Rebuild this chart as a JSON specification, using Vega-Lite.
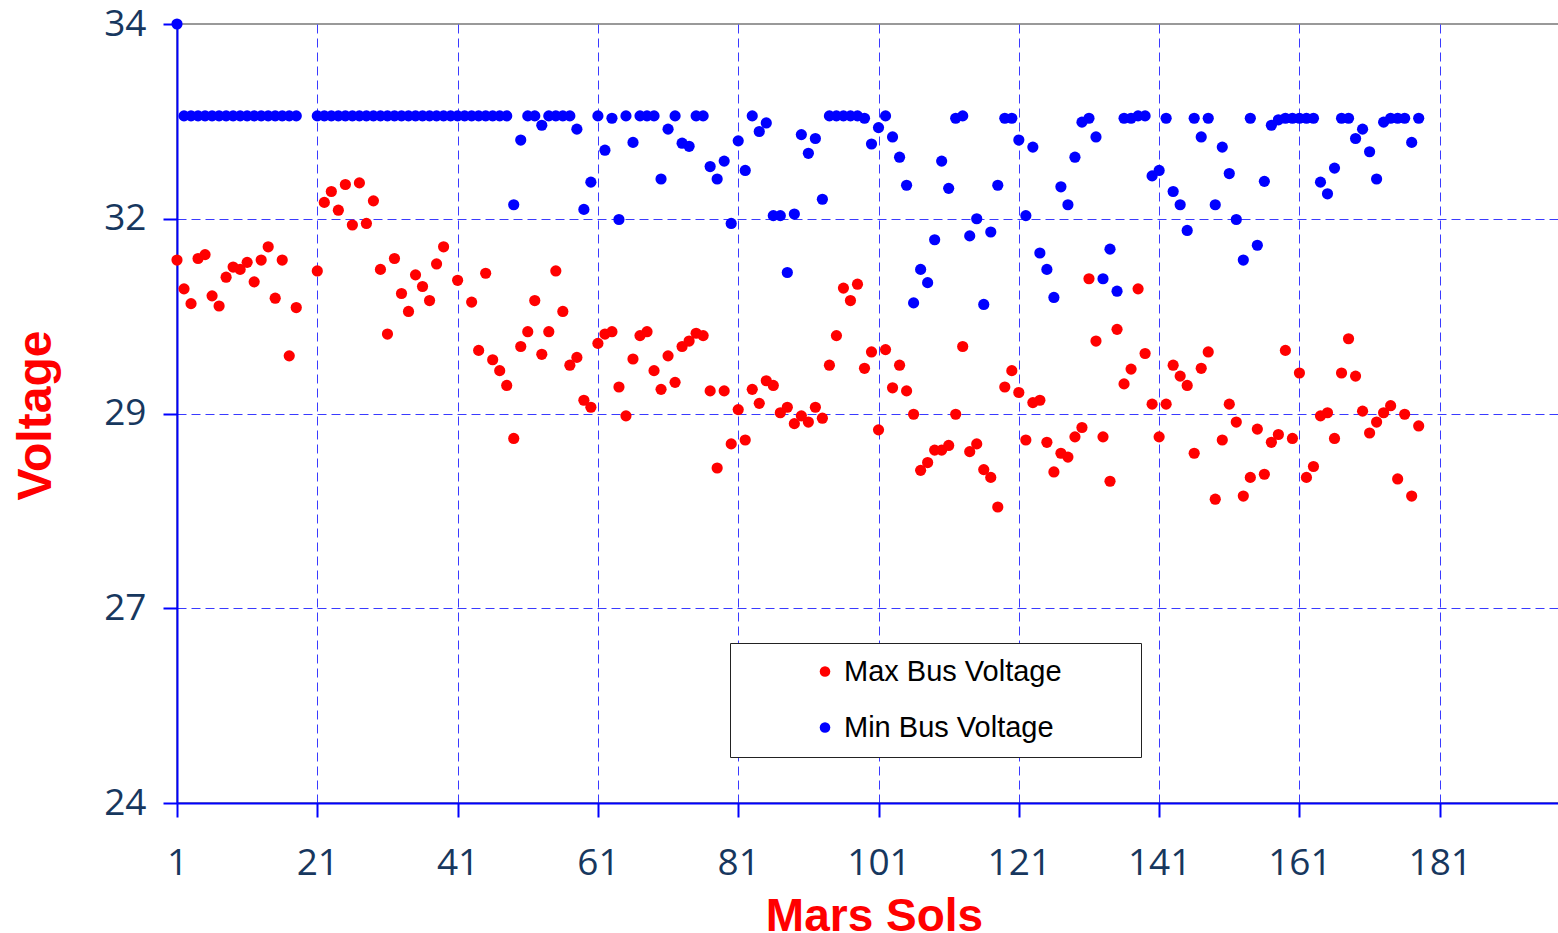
{
"$schema": "https://vega.github.io/schema/vega-lite/v6.json",
"width": 1382,
"height": 779,
"autosize": {"type": "none"},
"padding": {"left": 177, "top": 24, "right": 0, "bottom": 130},
"background": "#ffffff",
"config": {"view": {"stroke": "#999999", "strokeWidth": 2}},
"data": {"values": [
{"sol":1,"series":"Max Bus Voltage","volts":30.97},
{"sol":2,"series":"Max Bus Voltage","volts":30.60},
{"sol":3,"series":"Max Bus Voltage","volts":30.41},
{"sol":4,"series":"Max Bus Voltage","volts":30.99},
{"sol":5,"series":"Max Bus Voltage","volts":31.04},
{"sol":6,"series":"Max Bus Voltage","volts":30.51},
{"sol":7,"series":"Max Bus Voltage","volts":30.38},
{"sol":8,"series":"Max Bus Voltage","volts":30.75},
{"sol":9,"series":"Max Bus Voltage","volts":30.88},
{"sol":10,"series":"Max Bus Voltage","volts":30.85},
{"sol":11,"series":"Max Bus Voltage","volts":30.94},
{"sol":12,"series":"Max Bus Voltage","volts":30.69},
{"sol":13,"series":"Max Bus Voltage","volts":30.97},
{"sol":14,"series":"Max Bus Voltage","volts":31.14},
{"sol":15,"series":"Max Bus Voltage","volts":30.48},
{"sol":16,"series":"Max Bus Voltage","volts":30.97},
{"sol":17,"series":"Max Bus Voltage","volts":29.74},
{"sol":18,"series":"Max Bus Voltage","volts":30.36},
{"sol":21,"series":"Max Bus Voltage","volts":30.83},
{"sol":22,"series":"Max Bus Voltage","volts":31.71},
{"sol":23,"series":"Max Bus Voltage","volts":31.85},
{"sol":24,"series":"Max Bus Voltage","volts":31.61},
{"sol":25,"series":"Max Bus Voltage","volts":31.94},
{"sol":26,"series":"Max Bus Voltage","volts":31.42},
{"sol":27,"series":"Max Bus Voltage","volts":31.96},
{"sol":28,"series":"Max Bus Voltage","volts":31.44},
{"sol":29,"series":"Max Bus Voltage","volts":31.73},
{"sol":30,"series":"Max Bus Voltage","volts":30.85},
{"sol":31,"series":"Max Bus Voltage","volts":30.02},
{"sol":32,"series":"Max Bus Voltage","volts":30.99},
{"sol":33,"series":"Max Bus Voltage","volts":30.54},
{"sol":34,"series":"Max Bus Voltage","volts":30.31},
{"sol":35,"series":"Max Bus Voltage","volts":30.78},
{"sol":36,"series":"Max Bus Voltage","volts":30.63},
{"sol":37,"series":"Max Bus Voltage","volts":30.45},
{"sol":38,"series":"Max Bus Voltage","volts":30.92},
{"sol":39,"series":"Max Bus Voltage","volts":31.14},
{"sol":41,"series":"Max Bus Voltage","volts":30.71},
{"sol":43,"series":"Max Bus Voltage","volts":30.43},
{"sol":44,"series":"Max Bus Voltage","volts":29.81},
{"sol":45,"series":"Max Bus Voltage","volts":30.80},
{"sol":46,"series":"Max Bus Voltage","volts":29.69},
{"sol":47,"series":"Max Bus Voltage","volts":29.55},
{"sol":48,"series":"Max Bus Voltage","volts":29.36},
{"sol":49,"series":"Max Bus Voltage","volts":28.68},
{"sol":50,"series":"Max Bus Voltage","volts":29.86},
{"sol":51,"series":"Max Bus Voltage","volts":30.05},
{"sol":52,"series":"Max Bus Voltage","volts":30.45},
{"sol":53,"series":"Max Bus Voltage","volts":29.76},
{"sol":54,"series":"Max Bus Voltage","volts":30.05},
{"sol":55,"series":"Max Bus Voltage","volts":30.83},
{"sol":56,"series":"Max Bus Voltage","volts":30.31},
{"sol":57,"series":"Max Bus Voltage","volts":29.62},
{"sol":58,"series":"Max Bus Voltage","volts":29.72},
{"sol":59,"series":"Max Bus Voltage","volts":29.17},
{"sol":60,"series":"Max Bus Voltage","volts":29.08},
{"sol":61,"series":"Max Bus Voltage","volts":29.90},
{"sol":62,"series":"Max Bus Voltage","volts":30.02},
{"sol":63,"series":"Max Bus Voltage","volts":30.05},
{"sol":64,"series":"Max Bus Voltage","volts":29.34},
{"sol":65,"series":"Max Bus Voltage","volts":28.97},
{"sol":66,"series":"Max Bus Voltage","volts":29.70},
{"sol":67,"series":"Max Bus Voltage","volts":30.00},
{"sol":68,"series":"Max Bus Voltage","volts":30.05},
{"sol":69,"series":"Max Bus Voltage","volts":29.55},
{"sol":70,"series":"Max Bus Voltage","volts":29.31},
{"sol":71,"series":"Max Bus Voltage","volts":29.74},
{"sol":72,"series":"Max Bus Voltage","volts":29.40},
{"sol":73,"series":"Max Bus Voltage","volts":29.86},
{"sol":74,"series":"Max Bus Voltage","volts":29.93},
{"sol":75,"series":"Max Bus Voltage","volts":30.03},
{"sol":76,"series":"Max Bus Voltage","volts":30.00},
{"sol":77,"series":"Max Bus Voltage","volts":29.29},
{"sol":78,"series":"Max Bus Voltage","volts":28.30},
{"sol":79,"series":"Max Bus Voltage","volts":29.29},
{"sol":80,"series":"Max Bus Voltage","volts":28.61},
{"sol":81,"series":"Max Bus Voltage","volts":29.05},
{"sol":82,"series":"Max Bus Voltage","volts":28.66},
{"sol":83,"series":"Max Bus Voltage","volts":29.31},
{"sol":84,"series":"Max Bus Voltage","volts":29.13},
{"sol":85,"series":"Max Bus Voltage","volts":29.42},
{"sol":86,"series":"Max Bus Voltage","volts":29.36},
{"sol":87,"series":"Max Bus Voltage","volts":29.01},
{"sol":88,"series":"Max Bus Voltage","volts":29.08},
{"sol":89,"series":"Max Bus Voltage","volts":28.87},
{"sol":90,"series":"Max Bus Voltage","volts":28.97},
{"sol":91,"series":"Max Bus Voltage","volts":28.89},
{"sol":92,"series":"Max Bus Voltage","volts":29.08},
{"sol":93,"series":"Max Bus Voltage","volts":28.94},
{"sol":94,"series":"Max Bus Voltage","volts":29.62},
{"sol":95,"series":"Max Bus Voltage","volts":30.00},
{"sol":96,"series":"Max Bus Voltage","volts":30.61},
{"sol":97,"series":"Max Bus Voltage","volts":30.45},
{"sol":98,"series":"Max Bus Voltage","volts":30.66},
{"sol":99,"series":"Max Bus Voltage","volts":29.58},
{"sol":100,"series":"Max Bus Voltage","volts":29.79},
{"sol":101,"series":"Max Bus Voltage","volts":28.79},
{"sol":102,"series":"Max Bus Voltage","volts":29.82},
{"sol":103,"series":"Max Bus Voltage","volts":29.33},
{"sol":104,"series":"Max Bus Voltage","volts":29.62},
{"sol":105,"series":"Max Bus Voltage","volts":29.29},
{"sol":106,"series":"Max Bus Voltage","volts":28.99},
{"sol":107,"series":"Max Bus Voltage","volts":28.27},
{"sol":108,"series":"Max Bus Voltage","volts":28.37},
{"sol":109,"series":"Max Bus Voltage","volts":28.53},
{"sol":110,"series":"Max Bus Voltage","volts":28.53},
{"sol":111,"series":"Max Bus Voltage","volts":28.59},
{"sol":112,"series":"Max Bus Voltage","volts":28.99},
{"sol":113,"series":"Max Bus Voltage","volts":29.86},
{"sol":114,"series":"Max Bus Voltage","volts":28.51},
{"sol":115,"series":"Max Bus Voltage","volts":28.61},
{"sol":116,"series":"Max Bus Voltage","volts":28.28},
{"sol":117,"series":"Max Bus Voltage","volts":28.18},
{"sol":118,"series":"Max Bus Voltage","volts":27.80},
{"sol":119,"series":"Max Bus Voltage","volts":29.34},
{"sol":120,"series":"Max Bus Voltage","volts":29.55},
{"sol":121,"series":"Max Bus Voltage","volts":29.27},
{"sol":122,"series":"Max Bus Voltage","volts":28.66},
{"sol":123,"series":"Max Bus Voltage","volts":29.14},
{"sol":124,"series":"Max Bus Voltage","volts":29.17},
{"sol":125,"series":"Max Bus Voltage","volts":28.63},
{"sol":126,"series":"Max Bus Voltage","volts":28.25},
{"sol":127,"series":"Max Bus Voltage","volts":28.49},
{"sol":128,"series":"Max Bus Voltage","volts":28.44},
{"sol":129,"series":"Max Bus Voltage","volts":28.70},
{"sol":130,"series":"Max Bus Voltage","volts":28.82},
{"sol":131,"series":"Max Bus Voltage","volts":30.73},
{"sol":132,"series":"Max Bus Voltage","volts":29.93},
{"sol":133,"series":"Max Bus Voltage","volts":28.70},
{"sol":134,"series":"Max Bus Voltage","volts":28.13},
{"sol":135,"series":"Max Bus Voltage","volts":30.08},
{"sol":136,"series":"Max Bus Voltage","volts":29.38},
{"sol":137,"series":"Max Bus Voltage","volts":29.57},
{"sol":138,"series":"Max Bus Voltage","volts":30.60},
{"sol":139,"series":"Max Bus Voltage","volts":29.77},
{"sol":140,"series":"Max Bus Voltage","volts":29.12},
{"sol":141,"series":"Max Bus Voltage","volts":28.70},
{"sol":142,"series":"Max Bus Voltage","volts":29.12},
{"sol":143,"series":"Max Bus Voltage","volts":29.62},
{"sol":144,"series":"Max Bus Voltage","volts":29.48},
{"sol":145,"series":"Max Bus Voltage","volts":29.36},
{"sol":146,"series":"Max Bus Voltage","volts":28.49},
{"sol":147,"series":"Max Bus Voltage","volts":29.58},
{"sol":148,"series":"Max Bus Voltage","volts":29.79},
{"sol":149,"series":"Max Bus Voltage","volts":27.90},
{"sol":150,"series":"Max Bus Voltage","volts":28.66},
{"sol":151,"series":"Max Bus Voltage","volts":29.12},
{"sol":152,"series":"Max Bus Voltage","volts":28.89},
{"sol":153,"series":"Max Bus Voltage","volts":27.94},
{"sol":154,"series":"Max Bus Voltage","volts":28.18},
{"sol":155,"series":"Max Bus Voltage","volts":28.80},
{"sol":156,"series":"Max Bus Voltage","volts":28.22},
{"sol":157,"series":"Max Bus Voltage","volts":28.63},
{"sol":158,"series":"Max Bus Voltage","volts":28.73},
{"sol":159,"series":"Max Bus Voltage","volts":29.81},
{"sol":160,"series":"Max Bus Voltage","volts":28.68},
{"sol":161,"series":"Max Bus Voltage","volts":29.52},
{"sol":162,"series":"Max Bus Voltage","volts":28.18},
{"sol":163,"series":"Max Bus Voltage","volts":28.32},
{"sol":164,"series":"Max Bus Voltage","volts":28.97},
{"sol":165,"series":"Max Bus Voltage","volts":29.01},
{"sol":166,"series":"Max Bus Voltage","volts":28.68},
{"sol":167,"series":"Max Bus Voltage","volts":29.52},
{"sol":168,"series":"Max Bus Voltage","volts":29.96},
{"sol":169,"series":"Max Bus Voltage","volts":29.48},
{"sol":170,"series":"Max Bus Voltage","volts":29.03},
{"sol":171,"series":"Max Bus Voltage","volts":28.75},
{"sol":172,"series":"Max Bus Voltage","volts":28.89},
{"sol":173,"series":"Max Bus Voltage","volts":29.01},
{"sol":174,"series":"Max Bus Voltage","volts":29.10},
{"sol":175,"series":"Max Bus Voltage","volts":28.16},
{"sol":176,"series":"Max Bus Voltage","volts":28.99},
{"sol":177,"series":"Max Bus Voltage","volts":27.94},
{"sol":178,"series":"Max Bus Voltage","volts":28.84},
{"sol":1,"series":"Min Bus Voltage","volts":34.0},
{"sol":2,"series":"Min Bus Voltage","volts":32.82},
{"sol":3,"series":"Min Bus Voltage","volts":32.82},
{"sol":4,"series":"Min Bus Voltage","volts":32.82},
{"sol":5,"series":"Min Bus Voltage","volts":32.82},
{"sol":6,"series":"Min Bus Voltage","volts":32.82},
{"sol":7,"series":"Min Bus Voltage","volts":32.82},
{"sol":8,"series":"Min Bus Voltage","volts":32.82},
{"sol":9,"series":"Min Bus Voltage","volts":32.82},
{"sol":10,"series":"Min Bus Voltage","volts":32.82},
{"sol":11,"series":"Min Bus Voltage","volts":32.82},
{"sol":12,"series":"Min Bus Voltage","volts":32.82},
{"sol":13,"series":"Min Bus Voltage","volts":32.82},
{"sol":14,"series":"Min Bus Voltage","volts":32.82},
{"sol":15,"series":"Min Bus Voltage","volts":32.82},
{"sol":16,"series":"Min Bus Voltage","volts":32.82},
{"sol":17,"series":"Min Bus Voltage","volts":32.82},
{"sol":18,"series":"Min Bus Voltage","volts":32.82},
{"sol":21,"series":"Min Bus Voltage","volts":32.82},
{"sol":22,"series":"Min Bus Voltage","volts":32.82},
{"sol":23,"series":"Min Bus Voltage","volts":32.82},
{"sol":24,"series":"Min Bus Voltage","volts":32.82},
{"sol":25,"series":"Min Bus Voltage","volts":32.82},
{"sol":26,"series":"Min Bus Voltage","volts":32.82},
{"sol":27,"series":"Min Bus Voltage","volts":32.82},
{"sol":28,"series":"Min Bus Voltage","volts":32.82},
{"sol":29,"series":"Min Bus Voltage","volts":32.82},
{"sol":30,"series":"Min Bus Voltage","volts":32.82},
{"sol":31,"series":"Min Bus Voltage","volts":32.82},
{"sol":32,"series":"Min Bus Voltage","volts":32.82},
{"sol":33,"series":"Min Bus Voltage","volts":32.82},
{"sol":34,"series":"Min Bus Voltage","volts":32.82},
{"sol":35,"series":"Min Bus Voltage","volts":32.82},
{"sol":36,"series":"Min Bus Voltage","volts":32.82},
{"sol":37,"series":"Min Bus Voltage","volts":32.82},
{"sol":38,"series":"Min Bus Voltage","volts":32.82},
{"sol":39,"series":"Min Bus Voltage","volts":32.82},
{"sol":40,"series":"Min Bus Voltage","volts":32.82},
{"sol":41,"series":"Min Bus Voltage","volts":32.82},
{"sol":42,"series":"Min Bus Voltage","volts":32.82},
{"sol":43,"series":"Min Bus Voltage","volts":32.82},
{"sol":44,"series":"Min Bus Voltage","volts":32.82},
{"sol":45,"series":"Min Bus Voltage","volts":32.82},
{"sol":46,"series":"Min Bus Voltage","volts":32.82},
{"sol":47,"series":"Min Bus Voltage","volts":32.82},
{"sol":48,"series":"Min Bus Voltage","volts":32.82},
{"sol":49,"series":"Min Bus Voltage","volts":31.68},
{"sol":50,"series":"Min Bus Voltage","volts":32.51},
{"sol":51,"series":"Min Bus Voltage","volts":32.82},
{"sol":52,"series":"Min Bus Voltage","volts":32.82},
{"sol":53,"series":"Min Bus Voltage","volts":32.70},
{"sol":54,"series":"Min Bus Voltage","volts":32.82},
{"sol":55,"series":"Min Bus Voltage","volts":32.82},
{"sol":56,"series":"Min Bus Voltage","volts":32.82},
{"sol":57,"series":"Min Bus Voltage","volts":32.82},
{"sol":58,"series":"Min Bus Voltage","volts":32.65},
{"sol":59,"series":"Min Bus Voltage","volts":31.62},
{"sol":60,"series":"Min Bus Voltage","volts":31.97},
{"sol":61,"series":"Min Bus Voltage","volts":32.82},
{"sol":62,"series":"Min Bus Voltage","volts":32.38},
{"sol":63,"series":"Min Bus Voltage","volts":32.79},
{"sol":64,"series":"Min Bus Voltage","volts":31.49},
{"sol":65,"series":"Min Bus Voltage","volts":32.82},
{"sol":66,"series":"Min Bus Voltage","volts":32.48},
{"sol":67,"series":"Min Bus Voltage","volts":32.82},
{"sol":68,"series":"Min Bus Voltage","volts":32.82},
{"sol":69,"series":"Min Bus Voltage","volts":32.82},
{"sol":70,"series":"Min Bus Voltage","volts":32.01},
{"sol":71,"series":"Min Bus Voltage","volts":32.65},
{"sol":72,"series":"Min Bus Voltage","volts":32.82},
{"sol":73,"series":"Min Bus Voltage","volts":32.47},
{"sol":74,"series":"Min Bus Voltage","volts":32.43},
{"sol":75,"series":"Min Bus Voltage","volts":32.82},
{"sol":76,"series":"Min Bus Voltage","volts":32.82},
{"sol":77,"series":"Min Bus Voltage","volts":32.17},
{"sol":78,"series":"Min Bus Voltage","volts":32.01},
{"sol":79,"series":"Min Bus Voltage","volts":32.24},
{"sol":80,"series":"Min Bus Voltage","volts":31.44},
{"sol":81,"series":"Min Bus Voltage","volts":32.50},
{"sol":82,"series":"Min Bus Voltage","volts":32.12},
{"sol":83,"series":"Min Bus Voltage","volts":32.82},
{"sol":84,"series":"Min Bus Voltage","volts":32.62},
{"sol":85,"series":"Min Bus Voltage","volts":32.73},
{"sol":86,"series":"Min Bus Voltage","volts":31.54},
{"sol":87,"series":"Min Bus Voltage","volts":31.54},
{"sol":88,"series":"Min Bus Voltage","volts":30.81},
{"sol":89,"series":"Min Bus Voltage","volts":31.56},
{"sol":90,"series":"Min Bus Voltage","volts":32.58},
{"sol":91,"series":"Min Bus Voltage","volts":32.34},
{"sol":92,"series":"Min Bus Voltage","volts":32.53},
{"sol":93,"series":"Min Bus Voltage","volts":31.75},
{"sol":94,"series":"Min Bus Voltage","volts":32.82},
{"sol":95,"series":"Min Bus Voltage","volts":32.82},
{"sol":96,"series":"Min Bus Voltage","volts":32.82},
{"sol":97,"series":"Min Bus Voltage","volts":32.82},
{"sol":98,"series":"Min Bus Voltage","volts":32.82},
{"sol":99,"series":"Min Bus Voltage","volts":32.79},
{"sol":100,"series":"Min Bus Voltage","volts":32.46},
{"sol":101,"series":"Min Bus Voltage","volts":32.67},
{"sol":102,"series":"Min Bus Voltage","volts":32.82},
{"sol":103,"series":"Min Bus Voltage","volts":32.55},
{"sol":104,"series":"Min Bus Voltage","volts":32.29},
{"sol":105,"series":"Min Bus Voltage","volts":31.93},
{"sol":106,"series":"Min Bus Voltage","volts":30.42},
{"sol":107,"series":"Min Bus Voltage","volts":30.85},
{"sol":108,"series":"Min Bus Voltage","volts":30.68},
{"sol":109,"series":"Min Bus Voltage","volts":31.23},
{"sol":110,"series":"Min Bus Voltage","volts":32.24},
{"sol":111,"series":"Min Bus Voltage","volts":31.89},
{"sol":112,"series":"Min Bus Voltage","volts":32.79},
{"sol":113,"series":"Min Bus Voltage","volts":32.82},
{"sol":114,"series":"Min Bus Voltage","volts":31.28},
{"sol":115,"series":"Min Bus Voltage","volts":31.50},
{"sol":116,"series":"Min Bus Voltage","volts":30.40},
{"sol":117,"series":"Min Bus Voltage","volts":31.33},
{"sol":118,"series":"Min Bus Voltage","volts":31.93},
{"sol":119,"series":"Min Bus Voltage","volts":32.79},
{"sol":120,"series":"Min Bus Voltage","volts":32.79},
{"sol":121,"series":"Min Bus Voltage","volts":32.51},
{"sol":122,"series":"Min Bus Voltage","volts":31.54},
{"sol":123,"series":"Min Bus Voltage","volts":32.42},
{"sol":124,"series":"Min Bus Voltage","volts":31.06},
{"sol":125,"series":"Min Bus Voltage","volts":30.85},
{"sol":126,"series":"Min Bus Voltage","volts":30.49},
{"sol":127,"series":"Min Bus Voltage","volts":31.91},
{"sol":128,"series":"Min Bus Voltage","volts":31.68},
{"sol":129,"series":"Min Bus Voltage","volts":32.29},
{"sol":130,"series":"Min Bus Voltage","volts":32.74},
{"sol":131,"series":"Min Bus Voltage","volts":32.79},
{"sol":132,"series":"Min Bus Voltage","volts":32.55},
{"sol":133,"series":"Min Bus Voltage","volts":30.73},
{"sol":134,"series":"Min Bus Voltage","volts":31.11},
{"sol":135,"series":"Min Bus Voltage","volts":30.57},
{"sol":136,"series":"Min Bus Voltage","volts":32.79},
{"sol":137,"series":"Min Bus Voltage","volts":32.79},
{"sol":138,"series":"Min Bus Voltage","volts":32.82},
{"sol":139,"series":"Min Bus Voltage","volts":32.82},
{"sol":140,"series":"Min Bus Voltage","volts":32.05},
{"sol":141,"series":"Min Bus Voltage","volts":32.12},
{"sol":142,"series":"Min Bus Voltage","volts":32.79},
{"sol":143,"series":"Min Bus Voltage","volts":31.85},
{"sol":144,"series":"Min Bus Voltage","volts":31.68},
{"sol":145,"series":"Min Bus Voltage","volts":31.35},
{"sol":146,"series":"Min Bus Voltage","volts":32.79},
{"sol":147,"series":"Min Bus Voltage","volts":32.55},
{"sol":148,"series":"Min Bus Voltage","volts":32.79},
{"sol":149,"series":"Min Bus Voltage","volts":31.68},
{"sol":150,"series":"Min Bus Voltage","volts":32.42},
{"sol":151,"series":"Min Bus Voltage","volts":32.08},
{"sol":152,"series":"Min Bus Voltage","volts":31.49},
{"sol":153,"series":"Min Bus Voltage","volts":30.97},
{"sol":154,"series":"Min Bus Voltage","volts":32.79},
{"sol":155,"series":"Min Bus Voltage","volts":31.16},
{"sol":156,"series":"Min Bus Voltage","volts":31.98},
{"sol":157,"series":"Min Bus Voltage","volts":32.70},
{"sol":158,"series":"Min Bus Voltage","volts":32.77},
{"sol":159,"series":"Min Bus Voltage","volts":32.79},
{"sol":160,"series":"Min Bus Voltage","volts":32.79},
{"sol":161,"series":"Min Bus Voltage","volts":32.79},
{"sol":162,"series":"Min Bus Voltage","volts":32.79},
{"sol":163,"series":"Min Bus Voltage","volts":32.79},
{"sol":164,"series":"Min Bus Voltage","volts":31.97},
{"sol":165,"series":"Min Bus Voltage","volts":31.82},
{"sol":166,"series":"Min Bus Voltage","volts":32.15},
{"sol":167,"series":"Min Bus Voltage","volts":32.79},
{"sol":168,"series":"Min Bus Voltage","volts":32.79},
{"sol":169,"series":"Min Bus Voltage","volts":32.53},
{"sol":170,"series":"Min Bus Voltage","volts":32.65},
{"sol":171,"series":"Min Bus Voltage","volts":32.36},
{"sol":172,"series":"Min Bus Voltage","volts":32.01},
{"sol":173,"series":"Min Bus Voltage","volts":32.74},
{"sol":174,"series":"Min Bus Voltage","volts":32.79},
{"sol":175,"series":"Min Bus Voltage","volts":32.79},
{"sol":176,"series":"Min Bus Voltage","volts":32.79},
{"sol":177,"series":"Min Bus Voltage","volts":32.48},
{"sol":178,"series":"Min Bus Voltage","volts":32.79}
]},
"mark": {"type": "circle", "size": 125, "opacity": 1},
"encoding": {
  "x": {
    "field": "sol", "type": "quantitative",
    "scale": {"domain": [1, 198], "nice": false, "zero": false},
    "axis": {
      "values": [1, 21, 41, 61, 81, 101, 121, 141, 161, 181],
      "title": "Mars Sols",
      "zindex": 0,
      "grid": true,
      "gridColor": "#3a3aff",
      "gridDash": [9, 5],
      "gridWidth": 1,
      "domainColor": "#0000ff", "domainWidth": 2,
      "tickColor": "#0000ff", "tickWidth": 2, "tickSize": 14,
      "labelFont": "Open Sans", "labelFontSize": 37, "labelColor": "#17375e",
      "labelPadding": 28, "labelFlush": false, "labelOverlap": false,
      "titleFont": "Liberation Sans", "titleFontSize": 46, "titleFontWeight": "bold",
      "titleColor": "#ff0000", "titleX": 697, "titleY": 127,
      "titleBaseline": "alphabetic", "titleAlign": "center"
    }
  },
  "y": {
    "field": "volts", "type": "quantitative",
    "scale": {"domain": [24, 34], "nice": false, "zero": false},
    "axis": {
      "values": [24, 26.5, 29, 31.5, 34],
      "labelExpr": "datum.value == 26.5 ? '27' : datum.value == 31.5 ? '32' : datum.label",
      "title": "Voltage",
      "zindex": 0,
      "grid": true,
      "gridColor": "#3a3aff",
      "gridDash": [9, 5],
      "gridWidth": 1,
      "gridOpacity": {"condition": {"test": "datum.value >= 33.9", "value": 0}, "value": 1},
      "domainColor": "#0000ff", "domainWidth": 2,
      "tickColor": "#0000ff", "tickWidth": 2, "tickSize": 14,
      "labelFont": "Open Sans", "labelFontSize": 37, "labelColor": "#17375e",
      "labelPadding": 17, "labelFlush": false, "labelOverlap": false,
      "titleFont": "Liberation Sans", "titleFontSize": 48, "titleFontWeight": "bold",
      "titleColor": "#ff0000", "titleAngle": 270, "titleX": -127, "titleY": 391,
      "titleBaseline": "alphabetic", "titleAlign": "center"
    }
  },
  "color": {
    "field": "series", "type": "nominal",
    "scale": {"domain": ["Max Bus Voltage", "Min Bus Voltage"], "range": ["#ff0000", "#0000ff"]},
    "legend": {
      "orient": "none", "legendX": 553, "legendY": 619,
      "title": null, "direction": "vertical",
      "padding": 14, "rowPadding": 26,
      "fillColor": "#ffffff", "strokeColor": "#222222",
      "symbolType": "circle", "symbolSize": 112, "symbolOpacity": 1, "symbolStrokeWidth": 0,
      "symbolOffset": 66.5, "labelOffset": 4.5,
      "labelFont": "Liberation Sans", "labelFontSize": 29, "labelColor": "#000000",
      "labelLimit": 600,
      "labelExpr": "datum.label + '\u00a0\u00a0\u00a0\u00a0\u00a0\u00a0\u00a0\u00a0\u200b'"
    }
  }
}
}
